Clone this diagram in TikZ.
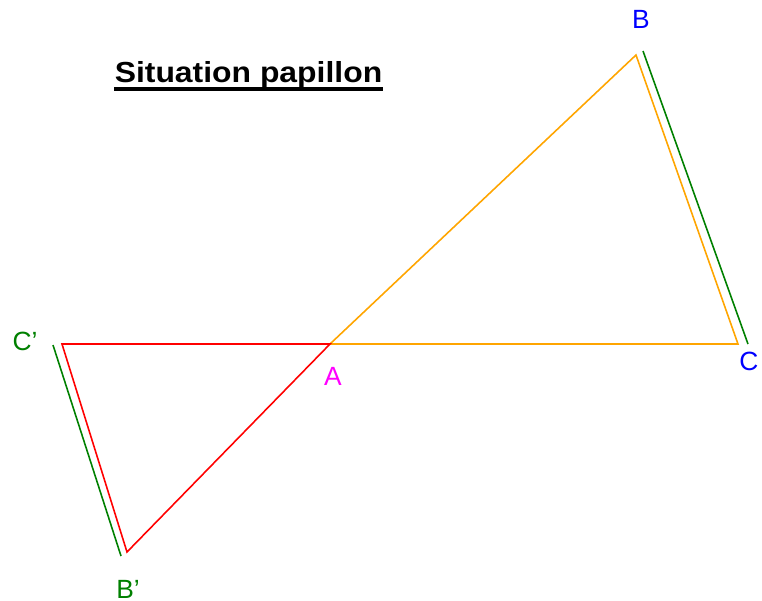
\documentclass[tikz,border=0pt]{standalone}
\usepackage{fontspec}
\setmainfont{Liberation Sans}
\usepackage{xcolor}
\usepackage{tikz}
\usetikzlibrary{positioning}
\definecolor{papiorange}{RGB}{255,165,0}
\definecolor{papired}{RGB}{255,0,0}
\definecolor{papiblue}{RGB}{0,0,255}
\definecolor{papigreen}{RGB}{0,128,0}
\definecolor{papimag}{RGB}{255,0,255}
\tikzset{
  side/.style={line width=0.9pt, line join=miter},
  para/.style={line width=0.9pt, draw=papigreen},
  lbl/.style={font=\fontsize{15}{18}\selectfont, inner sep=0pt},
}
\begin{document}
\begin{tikzpicture}[x=0.02cm, y=-0.02cm]
    \useasboundingbox (0,0) rectangle (762,600);
    \coordinate (A)  at (330,344);
    \coordinate (B)  at (636,55);
    \coordinate (C)  at (738,344);
    \coordinate (Cp) at (62,344);
    \coordinate (Bp) at (127,552);
    \coordinate (g1) at (643,51);
    \coordinate (g2) at (748,344);
    \coordinate (g3) at (53,345);
    \coordinate (g4) at (121,556);
    \draw[side, papiorange] (A) -- (B) -- (C) -- cycle;
    \draw[side, papired] (A) -- (Cp) -- (Bp) -- cycle;
    \draw[para] (g1) -- (g2);
    \draw[para] (g3) -- (g4);
    \node[lbl, text=papiblue]  (lB)  at (641,19)  {B};
    \node[lbl, text=papiblue]  (lC)  at (749,361) {C};
    \node[lbl, text=papimag]   (lA)  at (333,376) {A};
    \node[lbl, text=papigreen] (lCp) at (25,341)  {C’};
    \node[lbl, text=papigreen] (lBp) at (128,589) {B’};
    % title, underlined by hand
    \node[font=\fontsize{16.5}{20}\selectfont\bfseries, inner sep=0pt, anchor=base] (title) at (248.5,82) {\scalebox{1.1}[1]{Situation papillon}};
    \draw[line width=2pt] ([yshift=-0.14cm]title.base west) -- ([yshift=-0.14cm]title.base east);
  \end{tikzpicture}
\end{document}
